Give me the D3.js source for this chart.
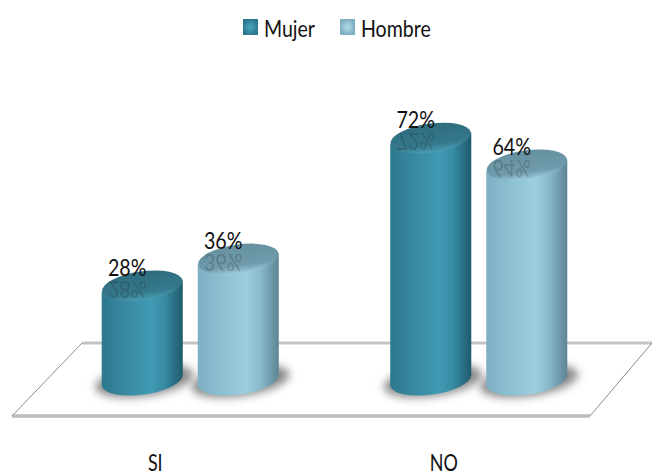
<!DOCTYPE html>
<html lang="es">
<head>
    <meta charset="UTF-8">
    <title>SI / NO por sexo</title>
    <script src="https://d3js.org/d3.v7.min.js"></script>
    <style>
        html, body { margin: 0; padding: 0; background: #fff; }
        svg { display: block; }
        text { font-family: Lato, "Open Sans", sans-serif; fill: #111; }
        .axis path, .axis line { display: none; }
        .axis text { font-size: 23px; }
        .legend-label { font-size: 23px; }
        .value-label { font-size: 24px; text-anchor: middle; }
        .value-mirror { font-size: 24px; text-anchor: middle; fill: #222; opacity: 0.22; }
    </style>
</head>
<body>
    <script>
        const categories = ['SI', 'NO'];
        const seriesNames = ['Mujer', 'Hombre'];
        const mujerValues = [28, 72];
        const hombreValues = [36, 64];

        const colors = {
            Mujer: { left: '#2d788e', mid: '#419ab4', shade: '#378ba3', right: '#1f5a6a', top: '#35798d', topDark: '#2f6c7e', rim: '#4a9db4', swatch: '#48a8c0' },
            Hombre: { left: '#7fafc3', mid: '#9bcfe0', shade: '#88b8ca', right: '#5d8494', top: '#6f9bac', topDark: '#65909f', rim: '#9dccdb', swatch: '#b4dbe6' }
        };

        const width = 652, height = 476;
        const svg = d3.select('body').append('svg')
            .attr('width', width)
            .attr('height', height);

        const x0 = d3.scaleBand()
            .domain(categories)
            .range([46, 623])
            .paddingInner(0.3345)
            .paddingOuter(0.1672);

        const x1 = d3.scaleBand()
            .domain(seriesNames)
            .range([0, x0.bandwidth()])
            .paddingInner(0.156)
            .paddingOuter(0.078);

        const y = d3.scaleLinear()
            .domain([0, 100])
            .range([380, 44]);

        const rows = categories.flatMap((c, i) => [
            { cat: c, name: 'Mujer', value: mujerValues[i] },
            { cat: c, name: 'Hombre', value: hombreValues[i] }
        ]);

        const defs = svg.append('defs');
        defs.append('filter').attr('id', 'blur')
            .attr('x', '-30%').attr('y', '-50%').attr('width', '160%').attr('height', '200%')
            .append('feGaussianBlur').attr('stdDeviation', 4);

        seriesNames.forEach(name => {
            const c = colors[name];
            const body = defs.append('linearGradient').attr('id', 'body-' + name);
            [[0, c.left], [0.6, c.mid], [0.78, c.shade], [1, c.right]].forEach(s => {
                body.append('stop').attr('offset', s[0]).attr('stop-color', s[1]);
            });
            const top = defs.append('linearGradient').attr('id', 'top-' + name)
                .attr('x1', 0).attr('y1', 0).attr('x2', 0).attr('y2', 1);
            [[0, c.topDark], [0.72, c.top], [1, c.rim]].forEach(s => {
                top.append('stop').attr('offset', s[0]).attr('stop-color', s[1]);
            });
            const swatch = defs.append('radialGradient').attr('id', 'swatch-' + name);
            [[0, c.swatch], [1, c.left]].forEach(s => {
                swatch.append('stop').attr('offset', s[0]).attr('stop-color', s[1]);
            });
        });

        // Floor
        const floorTop = y(0) - 37, floorBottom = y(0) + 36;
        svg.append('line')
            .attr('x1', 82).attr('y1', floorTop).attr('x2', width).attr('y2', floorTop)
            .attr('stroke', '#c4c4c4').attr('stroke-width', 3);
        svg.append('line')
            .attr('x1', 12).attr('y1', floorBottom).attr('x2', 590).attr('y2', floorBottom)
            .attr('stroke', '#bdbdbd').attr('stroke-width', 3.5);
        svg.append('line')
            .attr('x1', 82).attr('y1', floorTop).attr('x2', 12).attr('y2', floorBottom)
            .attr('stroke', '#8c8c8c').attr('stroke-width', 1);
        svg.append('line')
            .attr('x1', width).attr('y1', floorTop).attr('x2', 590).attr('y2', floorBottom)
            .attr('stroke', '#8c8c8c').attr('stroke-width', 1);

        const cx = d => x0(d.cat) + x1(d.name) + x1.bandwidth() / 2;
        const rx = x1.bandwidth() / 2;
        const ry = 14.5, tilt = -8;
        const lift = rx * Math.tan(-tilt * Math.PI / 180);

        // Shadows under the cylinders
        svg.selectAll('.shadow')
            .data(rows)
            .enter().append('ellipse')
            .attr('class', 'shadow')
            .attr('cx', d => cx(d) + 2)
            .attr('cy', y(0) + 1)
            .attr('rx', rx + 9)
            .attr('ry', ry + 1)
            .attr('transform', d => `rotate(${tilt},${cx(d)},${y(0)})`)
            .attr('fill', '#8a8a8a')
            .attr('filter', 'url(#blur)');

        // Cylinder bodies
        svg.selectAll('.body')
            .data(rows)
            .enter().append('path')
            .attr('class', 'body')
            .attr('fill', d => `url(#body-${d.name})`)
            .attr('d', d => {
                const c = cx(d), t = y(d.value), b = y(0);
                return `M${c - rx},${t + lift}L${c - rx},${b + lift}` +
                    `A${rx},${ry} ${tilt} 0 0 ${c + rx},${b - lift}` +
                    `L${c + rx},${t - lift}Z`;
            });

        // Cylinder tops
        svg.selectAll('.top')
            .data(rows)
            .enter().append('ellipse')
            .attr('class', 'top')
            .attr('cx', cx)
            .attr('cy', d => y(d.value))
            .attr('rx', rx)
            .attr('ry', ry)
            .attr('transform', d => `rotate(${tilt},${cx(d)},${y(d.value)})`)
            .attr('fill', d => `url(#top-${d.name})`);

        // Value labels and their reflection on the top face
        svg.selectAll('.value-mirror')
            .data(rows)
            .enter().append('text')
            .attr('class', 'value-mirror')
            .attr('transform', d => `translate(${cx(d) - 15},${y(d.value) - 5}) scale(0.82,-1)`)
            .text(d => d.value + '%');

        svg.selectAll('.value-label')
            .data(rows)
            .enter().append('text')
            .attr('class', 'value-label')
            .attr('transform', d => `translate(${cx(d) - 15},${y(d.value) - 10}) scale(0.82,1)`)
            .text(d => d.value + '%');

        // Category axis, shifted left with the floor's perspective
        svg.append('g')
            .attr('class', 'axis')
            .attr('transform', 'translate(-35,455)')
            .call(d3.axisBottom(x0).tickSize(0).tickPadding(0))
            .selectAll('text')
            .attr('transform', 'scale(0.78,1)');

        // Legend
        const legendX = d3.scaleOrdinal().domain(seriesNames).range([243, 340]);
        const legend = svg.selectAll('.legend')
            .data(seriesNames)
            .enter().append('g')
            .attr('class', 'legend')
            .attr('transform', d => `translate(${legendX(d)},19)`);
        legend.append('rect')
            .attr('width', 15).attr('height', 16)
            .attr('fill', d => `url(#swatch-${d})`);
        legend.append('text')
            .attr('class', 'legend-label')
            .attr('transform', 'translate(21,18) scale(0.85,1)')
            .text(d => d);
    </script>
</body>
</html>
